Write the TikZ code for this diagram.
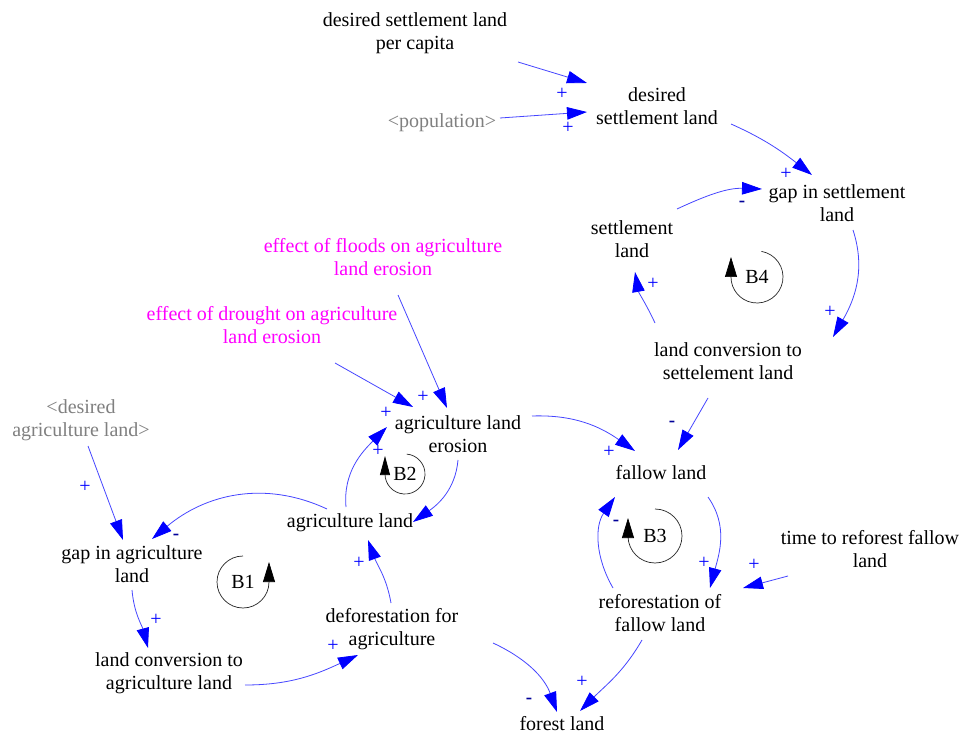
\documentclass[tikz,border=0pt]{standalone}
\usepackage{fontspec}
\setmainfont{Liberation Serif}
\usetikzlibrary{arrows.meta}
\definecolor{lnkblue}{RGB}{70,70,255}
\definecolor{tipblue}{RGB}{0,0,255}
\definecolor{grytxt}{RGB}{128,128,128}
\definecolor{magtxt}{RGB}{255,0,255}
\tikzset{
  var/.style={align=center, font=\fontsize{20}{23}\selectfont, inner sep=0pt},
  shadowvar/.style={var, text=grytxt},
  extvar/.style={var, text=magtxt},
  lnk/.style={draw=lnkblue, line width=0.8pt, -{Triangle[length=20pt,width=12.5pt,color=tipblue]}},
  pol/.style={text=tipblue, font=\fontsize{20}{20}\selectfont, inner sep=0pt},
  neg/.style={text=tipblue!60!black, font=\bfseries\fontsize{19}{19}\selectfont, inner sep=0pt},
  loopline/.style={draw=black!85, line width=0.7pt, -{Triangle[length=20pt,width=12pt,color=black]}},
  looplbl/.style={font=\fontsize{20}{20}\selectfont, inner sep=0pt},
}
\begin{document}
\begin{tikzpicture}[x=1pt,y=1pt]
\useasboundingbox[fill=white] (0,0) rectangle (962,-735);
% variables
\node[var] (dslpc) at (415,-33) {desired settlement land\\per capita};
\node[var] (dsl) at (657,-106) {desired\\settlement land};
\node[shadowvar] (pop) at (442,-123) {<population>};
\node[var] (gsl) at (837,-203) {gap in settlement\\land};
\node[var] (sl) at (632,-239) {settlement\\land};
\node[var] (lcsl) at (728,-361) {land conversion to\\settelement land};
\node[extvar] (efl) at (383,-257) {effect of floods on agriculture\\land erosion};
\node[extvar] (edl) at (272,-325) {effect of drought on agriculture\\land erosion};
\node[var] (ale) at (458,-434) {agriculture land\\erosion};
\node[var] (al) at (350,-523) {agriculture land};
\node[shadowvar] (dal) at (81,-420) {<desired\\agriculture land>};
\node[var] (gal) at (132,-564) {gap in agriculture\\land};
\node[var] (lcal) at (169,-673) {land conversion to\\agriculture land};
\node[var] (dfa) at (392,-629) {deforestation for\\agriculture};
\node[var] (fl) at (661,-473) {fallow land};
\node[var] (ttr) at (870,-549) {time to reforest fallow\\land};
\node[var] (rfl) at (660,-613) {reforestation of\\fallow land};
\node[var] (forest) at (562,-724) {forest land};

% connectors
\draw[lnk] ([shift={(103,-29)}]dslpc.center) -- ([shift={(-70,23)}]dsl.center);
\draw[lnk] ([shift={(58,5)}]pop.center) -- ([shift={(-70,-6)}]dsl.center);
\draw[lnk] ([shift={(74,-18)}]dsl.center) to[out=-24,in=142] ([shift={(-25,28)}]gsl.center);
\draw[lnk] ([shift={(45,30)}]sl.center) to[out=25,in=178] ([shift={(-75,14)}]gsl.center);
\draw[lnk] ([shift={(16,-27)}]gsl.center) to[out=-72,in=60] ([shift={(105,24)}]lcsl.center);
\draw[lnk] ([shift={(-73,38)}]lcsl.center) to[out=115,in=-80] ([shift={(3,-33)}]sl.center);
\draw[lnk] ([shift={(-20,-37)}]lcsl.center) -- ([shift={(17,23)}]fl.center);
\draw[lnk] ([shift={(15,-38)}]efl.center) -- ([shift={(-11,26)}]ale.center);
\draw[lnk] ([shift={(63,-38)}]edl.center) -- ([shift={(-45,27)}]ale.center);
\draw[lnk] ([shift={(-4,16)}]al.center) to[out=95,in=-135] ([shift={(-71,7)}]ale.center);
\draw[lnk] ([shift={(0,-26)}]ale.center) to[out=-95,in=35] ([shift={(63,1)}]al.center);
\draw[lnk] ([shift={(74,18)}]ale.center) to[out=2,in=145] ([shift={(-26,22)}]fl.center);
\draw[lnk] ([shift={(-23,14)}]al.center) to[out=155,in=40] ([shift={(20,25)}]gal.center);
\draw[lnk] ([shift={(7,-26)}]dal.center) -- ([shift={(-9,24)}]gal.center);
\draw[lnk] ([shift={(0,-26)}]gal.center) to[out=-85,in=105] ([shift={(-21,25)}]lcal.center);
\draw[lnk] ([shift={(76,-12)}]lcal.center) to[out=0,in=-155] ([shift={(-34,-26)}]dfa.center);
\draw[lnk] ([shift={(-1,26)}]dfa.center) to[out=100,in=-70] ([shift={(18,-17)}]al.center);
\draw[lnk] ([shift={(101,-14)}]dfa.center) to[out=-25,in=110] ([shift={(-5,12)}]forest.center);
\draw[lnk] ([shift={(-18,-27)}]rfl.center) to[out=-120,in=45] ([shift={(18,13)}]forest.center);
\draw[lnk] ([shift={(47,-24)}]fl.center) to[out=-55,in=75] ([shift={(50,25)}]rfl.center);
\draw[lnk] ([shift={(-82,-27)}]ttr.center) -- ([shift={(83,25)}]rfl.center);
\draw[lnk] ([shift={(-47,25)}]rfl.center) to[out=120,in=-125] ([shift={(-46,-24)}]fl.center);

% polarities
\node[pol] (s1) at (562,-94) {+};
\node[pol] (s2) at (568,-128) {+};
\node[pol] (s3) at (786,-174) {+};
\node[neg] (s4) at (742,-204) {-};
\node[pol] (s5) at (830,-312) {+};
\node[pol] (s6) at (653,-284) {+};
\node[neg] (s7) at (672,-424) {-};
\node[pol] (s8) at (423,-397) {+};
\node[pol] (s9) at (386,-413) {+};
\node[pol] (s10) at (378,-451) {+};
\node[pol] (s12) at (609,-452) {+};
\node[neg] (s13) at (176,-537) {-};
\node[pol] (s14) at (85,-487) {+};
\node[pol] (s15) at (156,-620) {+};
\node[pol] (s16) at (333,-646) {+};
\node[pol] (s17) at (359,-563) {+};
\node[neg] (s18) at (529,-701) {-};
\node[pol] (s19) at (582,-682) {+};
\node[pol] (s20) at (704,-563) {+};
\node[pol] (s21) at (754,-565) {+};
\node[neg] (s22) at (616,-523) {-};

% loop markers
\node[looplbl] (B1) at (243,-582) {B1};
\node[looplbl] (B2) at (405,-474) {B2};
\node[looplbl] (B3) at (655,-536) {B3};
\node[looplbl] (B4) at (757,-277) {B4};
\draw[loopline] ([shift={(90:26)}]B1.center) arc[start angle=90,end angle=360,radius=26] -- ++(0,20);
\draw[loopline,-{Triangle[length=19pt,width=10pt,color=black]}] ([shift={(85:20)}]B2.center) arc[start angle=85,end angle=-180,radius=20] -- ++(0,18);
\draw[loopline] ([shift={(90:27)}]B3.center) arc[start angle=90,end angle=-180,radius=27] -- ++(0,18);
\draw[loopline] ([shift={(80:26)}]B4.center) arc[start angle=80,end angle=-180,radius=26] -- ++(0,20);
\end{tikzpicture}
\end{document}
